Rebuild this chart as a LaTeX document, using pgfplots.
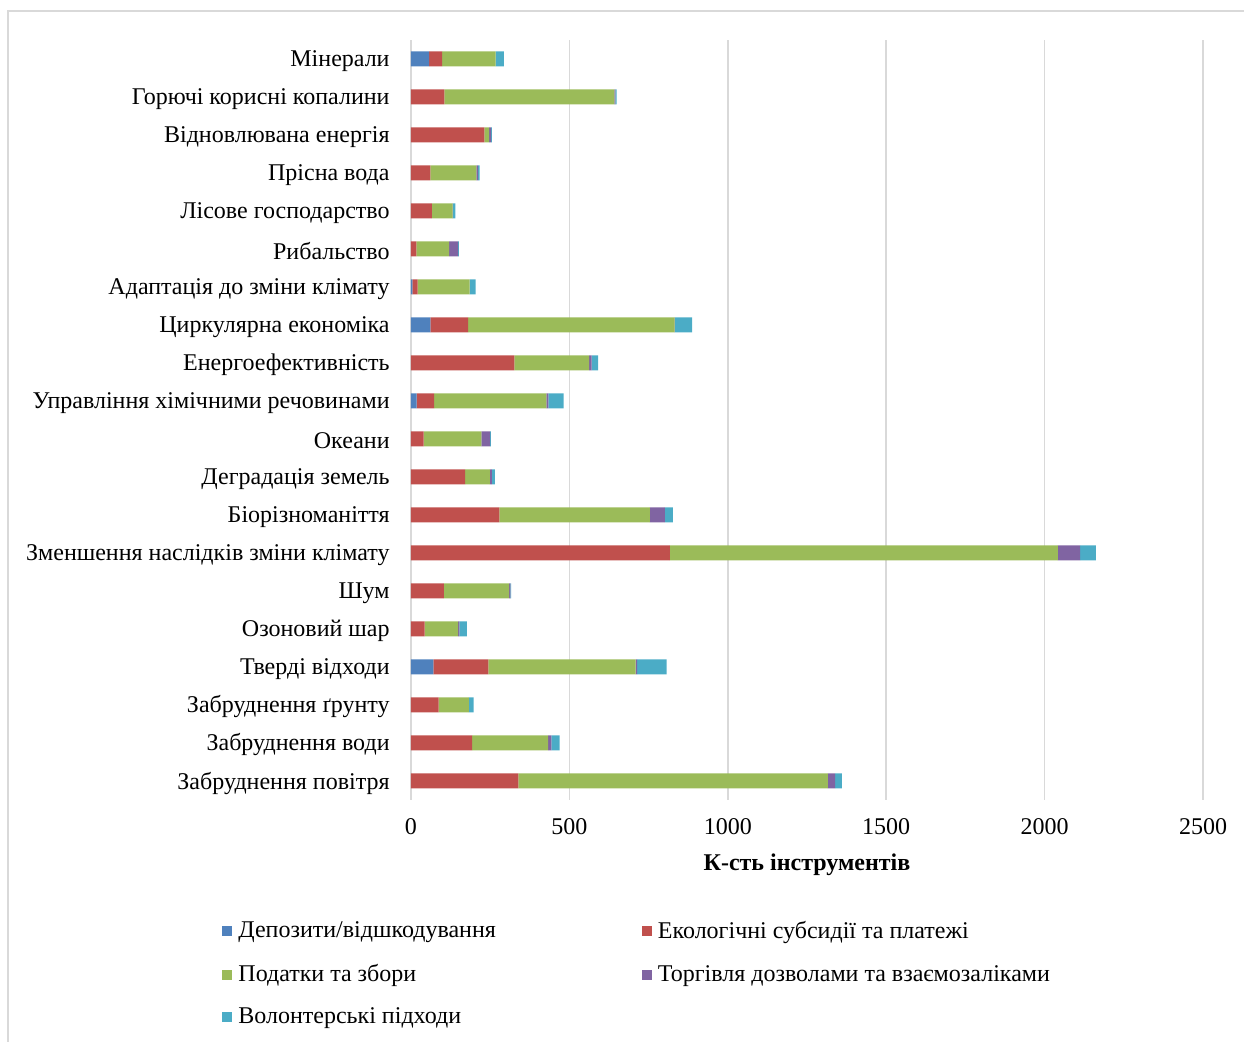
\documentclass[border=0pt]{standalone}
\usepackage{pgfplots}
\pgfplotsset{compat=1.18}
\usepackage{pgfplotstable}
\usepackage{fontspec}
\setmainfont{Liberation Serif}
\definecolor{cBlue}{HTML}{4F81BD}
\definecolor{cRed}{HTML}{C0504D}
\definecolor{cGreen}{HTML}{9BBB59}
\definecolor{cPurple}{HTML}{8064A2}
\definecolor{cCyan}{HTML}{4BACC6}
\definecolor{cGrid}{HTML}{D9D9D9}
\pgfplotstableread{
idx dep eco tax trade vol
0  0  339 977  23 21
1  0  193 240  10 26
2  0  87  96   0  15
3  71 173 465  5  93
4  0  43  106  4  23
5  0  104 206  4  2
6  0  817 1225 70 50
7  0  279 475  47 26
8  0  171 78   6  10
9  0  40  182  28 2
10 18 55  354  7  48
11 0  326 236  8  21
12 61 119 652  1  54
13 4  17  164  0  19
14 0  17  103  29 2
15 0  66  65   1  8
16 0  61  145  6  5
17 0  232 15   6  2
18 0  105 537  3  4
19 57 41  169  0  26
}\datatable
\begin{document}
\begin{tikzpicture}
\useasboundingbox (0,0) rectangle (622pt,-521pt);
\draw[cGrid,line width=0.75pt] (4pt,-521pt) -- (4pt,-5.5pt) -- (622pt,-5.5pt);
\begin{axis}[
  at={(205.5pt,-400pt)}, anchor=south west,
  scale only axis, width=396pt, height=380pt,
  xbar stacked, bar width=7.5pt,
  xmin=0, xmax=2500, ymin=-0.5, ymax=19.5,
  xtick={0,500,1000,1500,2000,2500},
  ytick={0,...,19},
  yticklabels={Забруднення повітря,Забруднення води,Забруднення ґрунту,Тверді відходи,Озоновий шар,Шум,Зменшення наслідків зміни клімату,Біорізноманіття,Деградація земель,Океани,Управління хімічними речовинами,Енергоефективність,Циркулярна економіка,Адаптація до зміни клімату,Рибальство,Лісове господарство,Прісна вода,Відновлювана енергія,Горючі корисні копалини,Мінерали},
  major tick length=0pt,
  axis line style={draw=none},
  xmajorgrids, grid style={cGrid,line width=0.75pt},
  /pgf/number format/assume math mode=true,
  /pgf/number format/1000 sep={},
  yticklabel style={font=\fontsize{12}{14}\selectfont, inner sep=0pt, xshift=-10.5pt, yshift=-1pt},
  xticklabel style={font=\fontsize{12}{14}\selectfont, inner sep=0pt, yshift=-9pt},
  xlabel={\textbf{К-сть інструментів}},
  every axis x label/.style={at={(rel axis cs:0.5,0)}, anchor=center, yshift=-32.5pt, font=\fontsize{12}{14}\selectfont},
  legend columns=2,
  legend style={at={(rel axis cs:-0.2386,-0.1552)}, anchor=north west, draw=none, fill=none,
    font=\fontsize{12}{14}\selectfont, inner sep=0pt, row sep=8.5pt,
    nodes={inner sep=1.5pt, anchor=west},
    /tikz/every odd column/.append style={column sep=1.5pt},
    /tikz/every even column/.append style={column sep=71.5pt}},
  legend cell align=left,
  legend image code/.code={\fill[#1] (0pt,-2.5pt) rectangle (5pt,2.5pt);},
]
\addplot[fill=cBlue, draw=none] table[x=dep, y=idx] {\datatable};
\addlegendentry{Депозити/відшкодування}
\addplot[fill=cRed, draw=none] table[x=eco, y=idx] {\datatable};
\addlegendentry{Екологічні субсидії та платежі}
\addplot[fill=cGreen, draw=none] table[x=tax, y=idx] {\datatable};
\addlegendentry{Податки та збори}
\addplot[fill=cPurple, draw=none] table[x=trade, y=idx] {\datatable};
\addlegendentry{Торгівля дозволами та взаємозаліками}
\addplot[fill=cCyan, draw=none] table[x=vol, y=idx] {\datatable};
\addlegendentry{Волонтерські підходи}
\end{axis}
\end{tikzpicture}
\end{document}
